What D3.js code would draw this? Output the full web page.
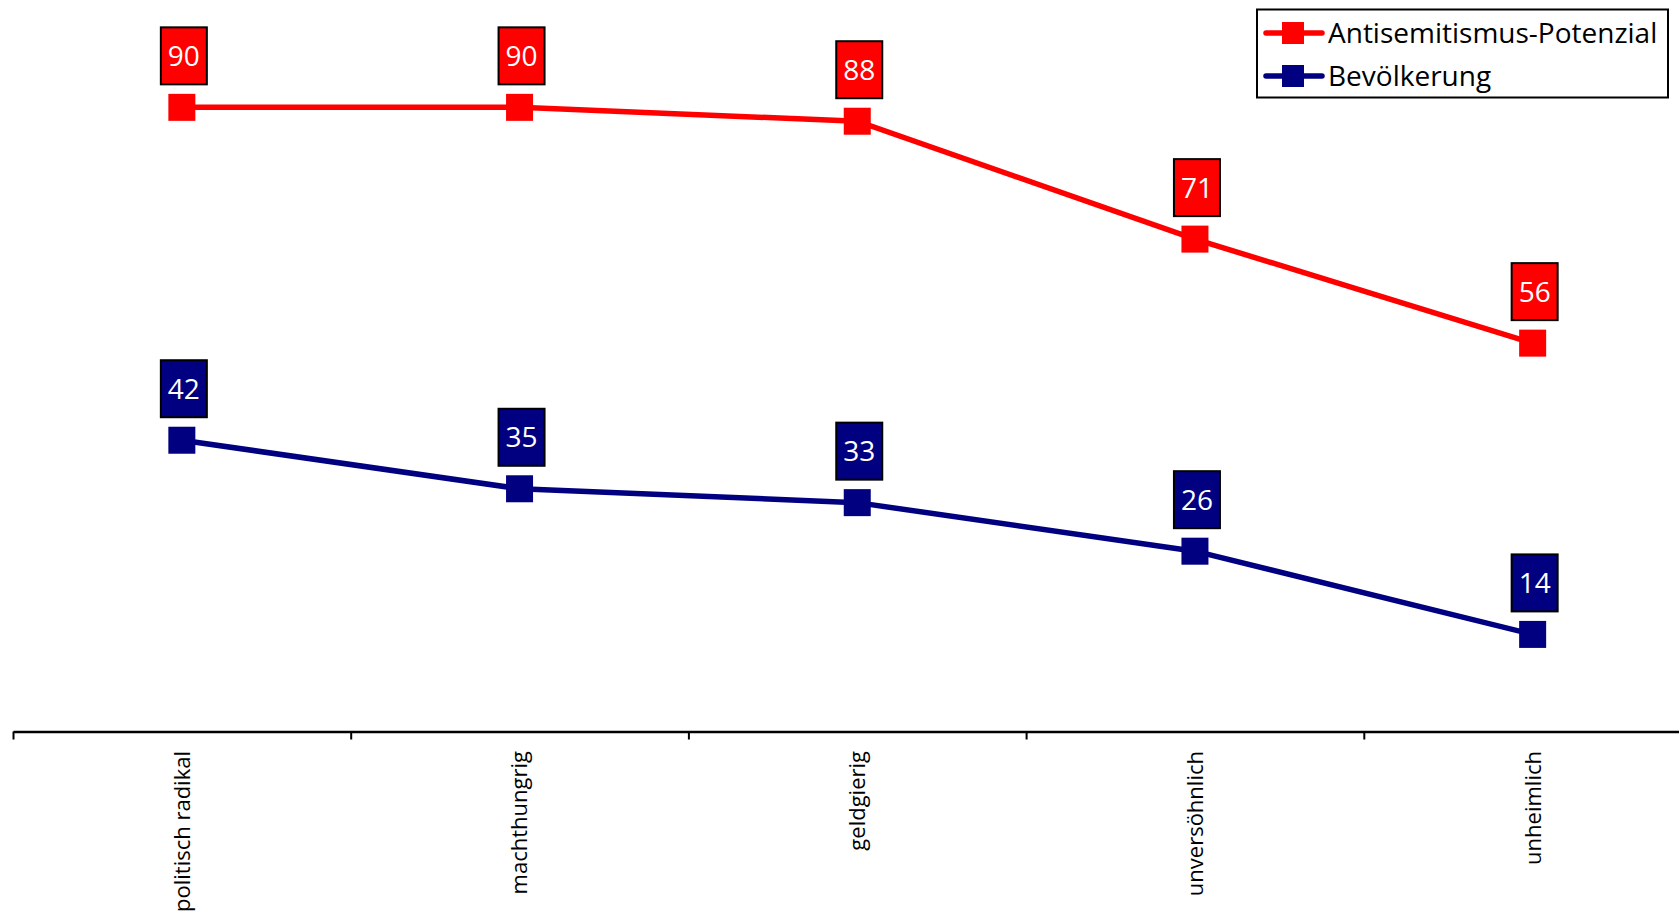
<!DOCTYPE html>
<html>
<head>
<meta charset="utf-8">
<script src="https://cdn.jsdelivr.net/npm/d3@7"></script>
<style>
  html, body { margin: 0; padding: 0; background: #fff; overflow: hidden; }
  svg { display: block; font-family: "Open Sans", sans-serif; }
</style>
</head>
<body>
<svg id="chart" width="1679" height="913"></svg>
<script>
const categories = ["politisch radikal", "machthungrig", "geldgierig", "unversöhnlich", "unheimlich"];
const antisemitismus = [90, 90, 88, 71, 56];
const bevoelkerung = [42, 35, 33, 26, 14];
const seriesNames = ["Antisemitismus-Potenzial", "Bevölkerung"];
const seriesColors = ["#ff0000", "#000080"];

const series = [
  { name: seriesNames[0], values: antisemitismus, color: seriesColors[0] },
  { name: seriesNames[1], values: bevoelkerung, color: seriesColors[1] }
];

const svg = d3.select("#chart");
const axisY = 731.5;

const x = d3.scaleBand().domain(categories).range([13, 1701.5]).padding(0);
const xEdge = d3.scaleLinear().domain([0, categories.length]).range([13, 1701.5]);
const y = d3.scaleLinear().domain([0, 100]).range([axisY, 38]);

// axis
const axisG = svg.append("g").attr("transform", `translate(0,${axisY})`);
axisG.call(d3.axisBottom(xEdge).tickValues(d3.range(0, categories.length + 1)).tickSize(8).tickSizeOuter(0).tickFormat(""))
  .call(g => g.select(".domain").attr("stroke", "#000").attr("stroke-width", 2.5))
  .call(g => g.selectAll(".tick line").attr("stroke", "#000").attr("stroke-width", 2));

// category labels
svg.append("g").selectAll("text").data(categories).join("text")
  .attr("transform", d => `translate(${x(d) + x.bandwidth() / 2},751) rotate(-90)`)
  .attr("text-anchor", "end")
  .attr("dy", "0.36em")
  .attr("font-size", 22)
  .attr("fill", "#000")
  .text(d => d);

const line = d3.line()
  .x((d, i) => x(categories[i]) + x.bandwidth() / 2)
  .y(d => y(d));

const mSize = 27;
series.forEach(s => {
  const g = svg.append("g");
  g.append("path").datum(s.values)
    .attr("d", line)
    .attr("fill", "none")
    .attr("stroke", s.color)
    .attr("stroke-width", 5.5);
  g.selectAll("rect.marker").data(s.values).join("rect")
    .attr("class", "marker")
    .attr("x", (d, i) => x(categories[i]) + x.bandwidth() / 2 - mSize / 2)
    .attr("y", d => y(d) - mSize / 2)
    .attr("width", mSize).attr("height", mSize)
    .attr("fill", s.color);
  // data labels
  const lbl = g.selectAll("g.lbl").data(s.values).join("g")
    .attr("class", "lbl")
    .attr("transform", (d, i) => `translate(${x(categories[i]) + x.bandwidth() / 2 + 2},${y(d) - 23 - 28.5})`);
  lbl.append("rect")
    .attr("x", -23).attr("y", -28.5).attr("width", 46).attr("height", 57)
    .attr("fill", s.color).attr("stroke", "#000").attr("stroke-width", 2);
  lbl.append("text")
    .attr("text-anchor", "middle").attr("dy", "0.36em")
    .attr("font-size", 28).attr("fill", "#fff")
    .text(d => d);
});

// legend
const legend = svg.append("g");
legend.append("rect")
  .attr("x", 1257).attr("y", 9.5).attr("width", 411).attr("height", 88)
  .attr("fill", "#fff").attr("stroke", "#000").attr("stroke-width", 2);
const li = legend.selectAll("g.item").data(series).join("g")
  .attr("class", "item")
  .attr("transform", (d, i) => `translate(0,${33 + i * 43})`);
li.append("line").attr("x1", 1266).attr("x2", 1322).attr("y1", 0).attr("y2", 0)
  .attr("stroke", d => d.color).attr("stroke-width", 5.5).attr("stroke-linecap", "round");
li.append("rect").attr("x", 1282).attr("y", -11).attr("width", 22).attr("height", 22)
  .attr("fill", d => d.color);
li.append("text").attr("x", 1328).attr("dy", "0.36em")
  .attr("font-size", 28).attr("fill", "#000")
  .text(d => d.name);
</script>
</body>
</html>
